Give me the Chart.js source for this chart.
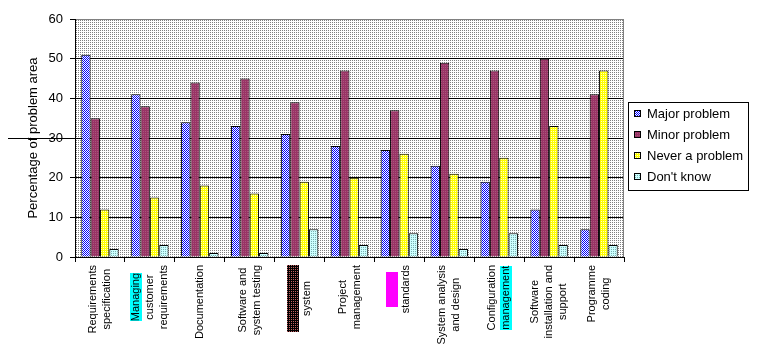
<!DOCTYPE html>
<html>
<head>
<meta charset="utf-8">
<script src="https://cdn.jsdelivr.net/npm/chart.js@4.4.1/dist/chart.umd.min.js"></script>
<style>
    html, body { margin: 0; padding: 0; background: #fff; }
    #wrap { width: 759px; height: 350px; }
</style>
</head>
<body>
<div id="wrap"><canvas id="chart" width="759" height="350"></canvas></div>
<script>
// Problem areas survey, grouped bar chart

const categories = [
    ['Requirements', 'specification'],
    ['Managing', 'customer', 'requirements'],
    ['Documentation'],
    ['Software and', 'system testing'],
    ['', 'system'],
    ['Project', 'management'],
    ['', 'standards'],
    ['System analysis', 'and design'],
    ['Configuration', 'management'],
    ['Software', 'installation and', 'support'],
    ['Programme', 'coding']
];
const seriesLabels = ['Major problem', 'Minor problem', 'Never a problem', "Don't know"];
const majorProblem = [51, 41, 34, 33, 31, 28, 27, 23, 19, 12, 7];
const minorProblem = [35, 38, 44, 45, 39, 47, 37, 49, 47, 50, 41];
const neverProblem = [12, 15, 18, 16, 19, 20, 26, 21, 25, 33, 47];
const dontKnow = [2, 3, 1, 1, 7, 3, 6, 2, 6, 3, 3];
const yTicks = [0, 10, 20, 30, 40, 50, 60];

// label highlights: [category, line, fill, fixed length or null]
const HIGHLIGHTS = [
    [1, 0, '#00ffff', null],
    [4, 0, 'dark', 67],
    [6, 0, '#ff00ff', 35],
    [8, 1, '#00ffff', null]
];

const FONT = "'Liberation Sans', Arial, sans-serif";

const canvas = document.getElementById('chart');
const ctx = canvas.getContext('2d');

function makePattern(px) {
    const c = document.createElement('canvas');
    c.width = 2;
    c.height = 2;
    const x = c.getContext('2d');
    for (let r = 0; r < 2; r++) {
        for (let k = 0; k < 2; k++) {
            x.fillStyle = px[r][k];
            x.fillRect(k, r, 1, 1);
        }
    }
    return ctx.createPattern(c, 'repeat');
}

const P = {
    blue: makePattern([['#0000ff', '#ffffff'], ['#ffffff', '#0000ff']]),
    red: makePattern([['#993366', '#993366'], ['#993366', '#a8587a']]),
    yellow: makePattern([['#ffff00', '#ffff00'], ['#ffff00', '#ffffcc']]),
    cyan: makePattern([['#ccffff', '#ccffff'], ['#ccffff', '#77b0b0']]),
    back: makePattern([['#808080', '#ffffff'], ['#ffffff', '#ffffff']]),
    dark: makePattern([['#000000', '#000000'], ['#000000', '#c06060']])
};
const fills = [P.blue, P.red, P.yellow, P.cyan];

const decorPlugin = {
    id: 'decor',
    beforeDraw(chart) {
        const a = chart.chartArea;
        const c = chart.ctx;
        c.save();
        c.fillStyle = P.back;
        c.fillRect(a.left, a.top, a.right - a.left, a.bottom - a.top);
        c.restore();
    },
    afterDraw(chart) {
        const a = chart.chartArea;
        const c = chart.ctx;
        const xs = chart.scales.x;
        const ys = chart.scales.y;
        c.save();

        // right border of plot
        c.strokeStyle = '#808080';
        c.lineWidth = 1;
        c.beginPath();
        c.moveTo(Math.round(a.right) - 0.5, a.top);
        c.lineTo(Math.round(a.right) - 0.5, a.bottom);
        c.stroke();

        // stray line across axis title
        const y30 = Math.round(ys.getPixelForValue(30)) + 0.5;
        c.strokeStyle = '#000';
        c.beginPath();
        c.moveTo(8, y30);
        c.lineTo(a.left, y30);
        c.stroke();

        // category labels, rotated, lines centred in block
        c.font = '11px ' + FONT;
        c.textAlign = 'center';
        c.textBaseline = 'middle';
        const top = a.bottom + 8;
        const gap = 14;
        categories.forEach((lines, i) => {
            const cx = xs.getPixelForValue(i);
            let maxW = 0;
            lines.forEach(l => { maxW = Math.max(maxW, c.measureText(l).width); });
            HIGHLIGHTS.forEach(h => { if (h[0] === i && h[3]) maxW = Math.max(maxW, h[3]); });
            const cy = top + maxW / 2;
            lines.forEach((l, j) => {
                const lx = cx + (j - (lines.length - 1) / 2) * gap;
                const h = HIGHLIGHTS.find(q => q[0] === i && q[1] === j);
                if (h) {
                    const len = h[3] || c.measureText(l).width;
                    c.fillStyle = h[2] === 'dark' ? P.dark : h[2];
                    c.fillRect(Math.round(lx - 6), Math.round(cy - len / 2), 12, Math.round(len));
                }
                c.save();
                c.translate(lx, cy);
                c.rotate(-Math.PI / 2);
                c.fillStyle = '#000';
                c.fillText(l, 0, 0);
                c.restore();
            });
        });

        // legend
        const lx = 628.5, ly = 102.5, lw = 120, lh = 88;
        c.fillStyle = '#fff';
        c.fillRect(lx, ly, lw, lh);
        c.strokeStyle = '#000';
        c.strokeRect(lx, ly, lw, lh);
        c.font = '13px ' + FONT;
        c.textAlign = 'left';
        c.textBaseline = 'middle';
        seriesLabels.forEach((s, k) => {
            const yy = 113.5 + k * 21;
            c.fillStyle = fills[k];
            c.fillRect(634, yy - 3.5, 7, 7);
            c.strokeStyle = '#000';
            c.strokeRect(634.5, yy - 3, 6, 6);
            c.fillStyle = '#000';
            c.fillText(s, 647, yy + 1);
        });
        c.restore();
    }
};

const seriesData = [majorProblem, minorProblem, neverProblem, dontKnow];

new Chart(ctx, {
    type: 'bar',
    data: {
        labels: categories.map(l => l.join(' ')),
        datasets: seriesLabels.map((s, k) => ({
            label: s,
            data: seriesData[k],
            backgroundColor: fills[k],
            borderColor: '#000',
            borderWidth: 1,
            categoryPercentage: 0.75,
            barPercentage: 1
        }))
    },
    options: {
        animation: false,
        responsive: false,
        devicePixelRatio: 1,
        layout: {
            padding: { top: 19, right: 135, bottom: 0, left: 0 }
        },
        plugins: {
            legend: { display: false },
            tooltip: { enabled: false }
        },
        scales: {
            x: {
                grid: {
                    offset: true,
                    drawOnChartArea: false,
                    tickLength: 5,
                    color: '#000'
                },
                border: { color: '#000' },
                ticks: { display: false },
                afterFit(scale) { scale.height = 93; }
            },
            y: {
                min: 0,
                max: 60,
                afterBuildTicks(scale) {
                    scale.ticks = yTicks.map(v => ({ value: v }));
                },
                grid: {
                    color: ctx2 => (ctx2.tick && ctx2.tick.value === 60 ? '#808080' : '#000'),
                    tickColor: '#000',
                    tickLength: 5
                },
                border: { color: '#000' },
                ticks: {
                    color: '#000',
                    padding: 7,
                    font: { family: FONT, size: 13 }
                },
                title: {
                    display: true,
                    text: 'Percentage of problem area',
                    color: '#000',
                    padding: { top: 26, bottom: 0 },
                    font: { family: FONT, size: 13 }
                },
                afterFit(scale) { scale.width = 75; }
            }
        }
    },
    plugins: [decorPlugin]
});
</script>
</body>
</html>
